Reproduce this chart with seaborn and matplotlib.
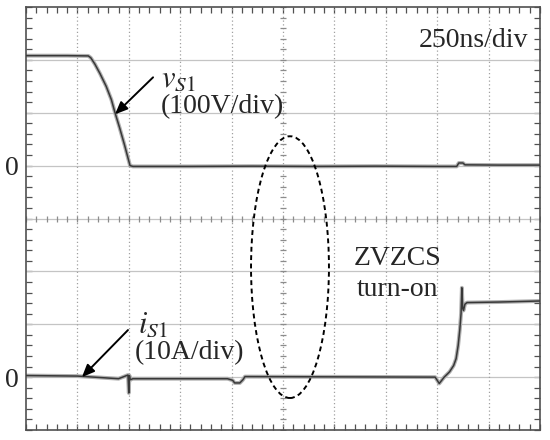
import numpy as np
import pandas as pd
import matplotlib
matplotlib.use("Agg")
import matplotlib.pyplot as plt
from matplotlib.patches import Ellipse
from matplotlib.ticker import MultipleLocator, FixedLocator, NullFormatter
import seaborn as sns

# ---------------- data ----------------
# time in ns (250 ns/div), voltage in V (100 V/div), current in A (10 A/div)
t_v = [0, 100, 200, 303, 315, 335, 360, 390, 415, 433, 455, 480, 506, 520,
       800, 1100, 1400, 1700, 2000, 2095, 2105, 2125, 2135, 2300, 2500]
v_s1 = [208, 208, 208, 207.5, 204, 192, 174, 150, 125, 100, 72, 38, 0, -1.5,
        -1.5, -1.0, -1.5, -1.0, -1.5, -1.5, 5, 5, 1.5, 1.0, 1.0]

t_i = [0, 250, 450, 496, 500, 503, 507, 520, 980, 1005, 1015, 1040, 1055, 1065,
       1990, 2000, 2010, 2020, 2034, 2060, 2080, 2092, 2102, 2110, 2116, 2120,
       2124, 2128, 2135, 2145, 2300, 2500]
i_s1 = [0.3, 0.2, -0.3, 0.4, -3.0, 0.3, -0.5, -0.3, -0.3, -0.6, -1.1, -1.1, -0.5, 0.1,
        0.0, -0.6, -1.2, -0.7, 0.0, 1.0, 2.2, 3.5, 6.0, 9.0, 12.0, 16.9,
        13.0, 12.6, 13.8, 14.1, 14.2, 14.4]

v_per_div = 100.0   # V/div
i_per_div = 10.0    # A/div
v_zero_div = 5      # screen division of the v_S1 zero level
i_zero_div = 1      # screen division of the i_S1 zero level
ns_per_div = 250
n_xdiv, n_ydiv = 10, 8

df_v = pd.DataFrame({"t": t_v, "div": np.array(v_s1) / v_per_div + v_zero_div})
df_i = pd.DataFrame({"t": t_i, "div": np.array(i_s1) / i_per_div + i_zero_div})

# ---------------- figure ----------------
sns.set_style("white")
plt.rcParams["font.family"] = ["Liberation Serif", "DejaVu Serif"]
plt.rcParams["mathtext.fontset"] = "stix"

fig = plt.figure(figsize=(5.5, 4.4), dpi=100)
ax = fig.add_axes([26 / 550, 10 / 440, 514 / 550, 423 / 440])
ax.set_xlim(0, n_xdiv * ns_per_div)
ax.set_ylim(0, n_ydiv)

grid_col = "#c4c4c4"
frame_col = "#505050"
# horizontal grid (solid) and vertical grid (dotted)
for k in range(1, n_ydiv):
    ax.axhline(k, color=grid_col, lw=0.9, zorder=1)
for k in range(1, n_xdiv):
    ax.axvline(k * ns_per_div, color="#a0a0a0", lw=0.9, ls=(0, (1, 2)), zorder=1)

# centre cross-hair graticule ticks
cx = n_xdiv / 2 * ns_per_div
cy = n_ydiv / 2
ax.plot(np.arange(0, n_xdiv * ns_per_div + 1, ns_per_div / 5), np.full(51, cy),
        ls="none", marker="|", ms=5, mew=0.9, color="#8c8c8c", zorder=1)
ax.plot(np.full(41, cx), np.arange(0, n_ydiv + 0.01, 0.2),
        ls="none", marker="_", ms=5, mew=0.9, color="#8c8c8c", zorder=1)

# traces
for df in (df_v, df_i):
    sns.lineplot(data=df, x="t", y="div", ax=ax, color="#b0b0b0", lw=2.8,
                 estimator=None, sort=False, zorder=2)
    sns.lineplot(data=df, x="t", y="div", ax=ax, color="#383838", lw=1.1,
                 estimator=None, sort=False, zorder=3)

# ticks / frame
ax.xaxis.set_major_locator(MultipleLocator(ns_per_div))
ax.xaxis.set_minor_locator(MultipleLocator(ns_per_div / 5))
ax.xaxis.set_major_formatter(NullFormatter())
ax.yaxis.set_major_locator(FixedLocator([i_zero_div, v_zero_div]))
ax.yaxis.set_minor_locator(MultipleLocator(0.2))
ax.set_yticklabels(["0", "0"])
ax.tick_params(which="both", direction="in", length=4, width=0.9, color=frame_col,
               top=True, right=True, bottom=True, left=True)
ax.tick_params(axis="y", which="major", labelsize=20, pad=5)
ax.set_xlabel("")
ax.set_ylabel("")
for s in ax.spines.values():
    s.set_color(frame_col)
    s.set_linewidth(1.2)

# annotations
fs = 20
ax.text(2178, 7.37, "250ns/div", fontsize=fs, ha="center", va="center")
ax.text(655, 6.50, r"$v_{S1}$", fontsize=fs + 2, ha="left", va="baseline")
ax.text(655, 6.12, "(100V/div)", fontsize=fs, ha="left", va="center")
ax.annotate("", xy=(433, 5.97), xytext=(618, 6.67),
            arrowprops=dict(arrowstyle="-|>,head_length=0.75,head_width=0.32",
                            color="black", lw=1.4, shrinkA=0, shrinkB=0))
ax.text(545, 1.84, r"$i_{S1}$", fontsize=fs + 2, ha="left", va="baseline")
ax.text(528, 1.46, "(10A/div)", fontsize=fs, ha="left", va="center")
ax.annotate("", xy=(272, 1.0), xytext=(496, 1.89),
            arrowprops=dict(arrowstyle="-|>,head_length=0.75,head_width=0.32",
                            color="black", lw=1.4, shrinkA=0, shrinkB=0))
ax.text(1805, 3.25, "ZVZCS", fontsize=fs, ha="center", va="center")
ax.text(1805, 2.66, "turn-on", fontsize=fs, ha="center", va="center")

ax.add_patch(Ellipse((1284, 3.08), width=379, height=4.95, fill=False,
                     ec="black", lw=1.4, ls=(0, (2.5, 1.8)), zorder=4))

fig.savefig("out.png", dpi=100)
